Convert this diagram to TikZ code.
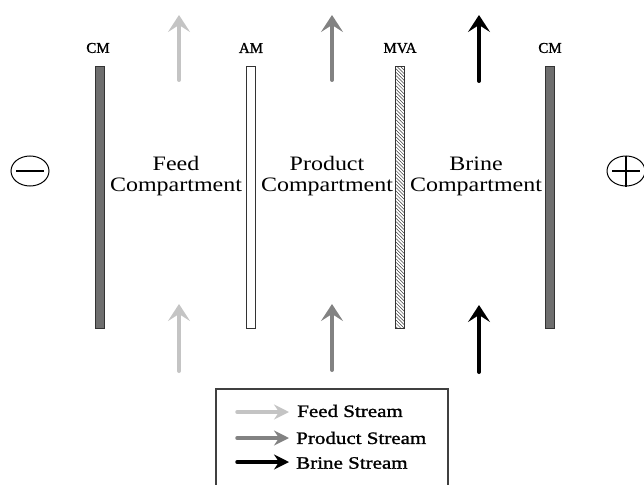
\documentclass[tikz,border=0pt]{standalone}
\usepackage{fontspec}
\setmainfont{Liberation Serif}
\newfontfamily\thickserif[FakeBold=1.2]{Liberation Serif}
\usetikzlibrary{arrows.meta,patterns.meta,shapes.geometric}
\definecolor{feedc}{HTML}{C4C4C4}
\definecolor{prodc}{HTML}{828282}
\definecolor{brinec}{HTML}{000000}
\definecolor{cmfill}{HTML}{6E6E6E}
\tikzset{
  memb/.style={draw=black!80,line width=0.9pt,minimum width=9pt,minimum height=262pt,inner sep=0pt,anchor=north},
  mlabel/.style={font=\thickserif\fontsize{15}{15}\selectfont,inner sep=0pt},
  comptext/.style={font=\fontsize{20.5}{21}\selectfont,align=center,inner sep=0pt,xscale=1.17},
  stream/.style={line width=4pt,line cap=round,-{Stealth[length=17pt,width=22pt,inset=7pt]}},
  lstream/.style={line width=3.5pt,line cap=round,-{Stealth[length=15pt,width=15pt,inset=5pt]}},
  legtext/.style={font=\thickserif\fontsize{17.5}{18}\selectfont,anchor=west,inner sep=0pt,xscale=1.2},
  electrode/.style={draw=black,line width=1pt,ellipse,minimum width=38pt,minimum height=30pt,inner sep=0pt}
}
\begin{document}
\begin{tikzpicture}[x=1pt,y=-1pt]
\useasboundingbox (0,0) rectangle (644,484);
% membranes
\node[memb,fill=cmfill] (cm1) at (99.5,66) {};
\node[memb,fill=white] (am) at (251,66) {};
\node[memb,fill=white] (mvabg) at (400,66) {};
\node[memb,pattern={Lines[angle=-45,distance=2.4pt,line width=0.5pt]},pattern color=black!75] (mva) at (400,66) {};
\node[memb,fill=cmfill] (cm2) at (550,66) {};
% membrane labels
\node[mlabel] (lcm1) at (98,48) {CM};
\node[mlabel] (lam) at (251,48) {AM};
\node[mlabel] (lmva) at (400,48) {MVA};
\node[mlabel] (lcm2) at (550,48) {CM};
% electrodes
\node[electrode] (minus) at (30,171) {};
\draw[line width=1.2pt] ([xshift=-14pt]minus.center) -- ([xshift=14pt]minus.center);
\node[electrode] (plus) at (626,171) {};
\draw[line width=1.2pt] ([xshift=-14pt]plus.center) -- ([xshift=14pt]plus.center);
\draw[line width=1.2pt] (plus.north) -- (plus.south);
% compartments
\node[comptext] (feed) at (176,176) {Feed\\Compartment};
\node[comptext] (prod) at (327,176) {Product\\Compartment};
\node[comptext] (brine) at (476,176) {Brine\\Compartment};
% stream coordinates
\coordinate (ft0) at (179,80); \coordinate (ft1) at (179,15);
\coordinate (pt0) at (332,80); \coordinate (pt1) at (332,15);
\coordinate (bt0) at (479,81); \coordinate (bt1) at (479,15);
\coordinate (fb0) at (179,371); \coordinate (fb1) at (179,304);
\coordinate (pb0) at (332,370); \coordinate (pb1) at (332,304);
\coordinate (bb0) at (479,372); \coordinate (bb1) at (479,305);
\draw[stream,feedc] (ft0) -- (ft1);
\draw[stream,prodc] (pt0) -- (pt1);
\draw[stream,brinec] (bt0) -- (bt1);
\draw[stream,feedc] (fb0) -- (fb1);
\draw[stream,prodc] (pb0) -- (pb1);
\draw[stream,brinec] (bb0) -- (bb1);
% legend
\draw[draw=black!75,line width=1.3pt] (216,500) |- (448,389) -- (448,500);
\coordinate (lf0) at (237,412); \coordinate (lf1) at (289,412);
\coordinate (lp0) at (237,438); \coordinate (lp1) at (289,438);
\coordinate (lb0) at (237,462); \coordinate (lb1) at (289,462);
\draw[lstream,feedc] (lf0) -- (lf1);
\draw[lstream,prodc] (lp0) -- (lp1);
\draw[lstream,brinec] (lb0) -- (lb1);
\node[legtext] (tf) at (297,411) {Feed Stream};
\node[legtext] (tp) at (296,438) {Product Stream};
\node[legtext] (tb) at (296,463) {Brine Stream};
\end{tikzpicture}
\end{document}
